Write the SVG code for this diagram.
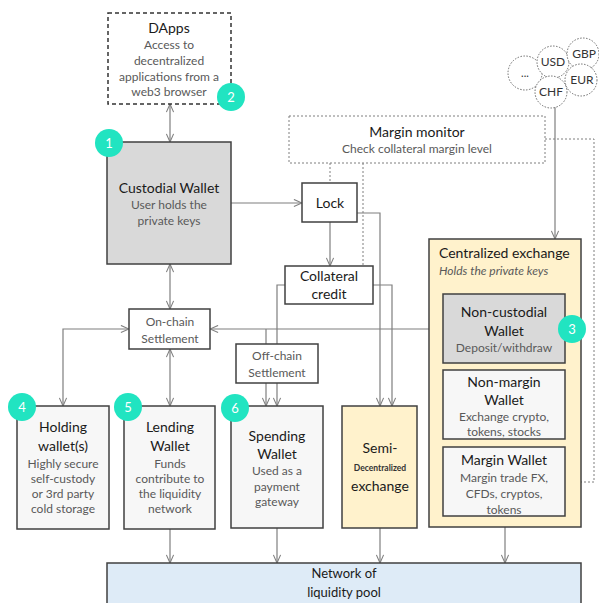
<svg xmlns="http://www.w3.org/2000/svg" width="599" height="603" viewBox="0 0 599 603">
<defs>
<marker id="a" viewBox="0 0 10 10" refX="10" refY="5" markerWidth="9" markerHeight="9" orient="auto-start-reverse" markerUnits="userSpaceOnUse">
<path d="M1,1 L10,5 L1,9" fill="none" stroke="#7f7f7f" stroke-width="1.2"/>
</marker>
<style>
text{font-family:Lato,"Open Sans","Liberation Sans",sans-serif;text-anchor:middle}
.t{font-size:14px;fill:#1a1a1a}
.s{font-size:12px;fill:#595959}
.box{stroke:#404040;stroke-width:1.5}
.w{fill:#fff}
.g{fill:#d9d9d9}
.l{fill:#f7f7f7}
.y{fill:#fff2cc}
.c{stroke:#7f7f7f;stroke-width:1.2;fill:none}
.d{stroke:#7f7f7f;stroke-width:1;fill:none;stroke-dasharray:2,2}
.b{fill:#21e4c1}
.bn{font-size:13px;fill:#fff}
.cur{fill:#fff;stroke:#6a6a6a;stroke-width:1;stroke-dasharray:1.5,1.5}
.ct{font-size:12px;fill:#333}
</style>
</defs>
<rect width="599" height="603" fill="#fff"/>

<g id="connectors">
<path class="c" d="M170,104 V142" marker-start="url(#a)" marker-end="url(#a)"/>
<path class="c" d="M231,203 H302" marker-end="url(#a)"/>
<path class="c" d="M330,222 V266" marker-end="url(#a)"/>
<path class="c" d="M170,264 V309" marker-start="url(#a)" marker-end="url(#a)"/>
<path class="c" d="M170,349 V406" marker-start="url(#a)" marker-end="url(#a)"/>
<path class="c" d="M129,329 H63 V406" marker-start="url(#a)" marker-end="url(#a)"/>
<path class="c" d="M210,329 H443" marker-start="url(#a)" marker-end="url(#a)"/>
<path class="c" d="M266,329 V344"/>
<path class="c" d="M266,383 V406" marker-end="url(#a)"/>
<path class="c" d="M285,285 H277 V406" marker-end="url(#a)"/>
<path class="c" d="M357,213 H380 V406" marker-end="url(#a)"/>
<path class="c" d="M373,285 H392 V406" marker-end="url(#a)"/>
<path class="c" d="M555,107 V239" marker-end="url(#a)"/>
<path class="d" d="M330,163 V183"/>
<path class="d" d="M363,163 V266"/>
<path class="d" d="M545,139 H594 V482 H565"/>
<path class="c" d="M170,529 V563" marker-end="url(#a)"/>
<path class="c" d="M277,528 V563" marker-end="url(#a)"/>
<path class="c" d="M380,528 V563" marker-end="url(#a)"/>
<path class="c" d="M505,527 V563" marker-end="url(#a)"/>
</g>

<g id="currencies">
<circle class="cur" cx="525" cy="73" r="17"/>
<circle class="cur" cx="553" cy="62" r="16"/>
<circle class="cur" cx="583" cy="54" r="16"/>
<circle class="cur" cx="581" cy="80" r="16"/>
<circle class="cur" cx="551" cy="92" r="16"/>
<text class="ct" x="525" y="77" style="font-size:11px">...</text>
<text class="ct" x="553" y="66">USD</text>
<text class="ct" x="584" y="58">GBP</text>
<text class="ct" x="582" y="84">EUR</text>
<text class="ct" x="551" y="96">CHF</text>
</g>

<g id="dapps">
<rect x="108" y="13" width="123" height="91" fill="#fff" stroke="#333" stroke-width="1.5" stroke-dasharray="4,3"/>
<text class="t" x="169" y="33">DApps</text>
<text class="s" x="169" y="49">Access to</text>
<text class="s" x="169" y="65">decentralized</text>
<text class="s" x="169" y="81">applications from a</text>
<text class="s" x="169" y="96">web3 browser</text>
<circle class="b" cx="231" cy="97" r="14"/>
<text class="bn" x="231" y="102">2</text>
</g>

<g id="custodial">
<rect class="box g" x="107" y="142" width="124" height="122"/>
<text class="t" x="169" y="193">Custodial Wallet</text>
<text class="s" x="169" y="209">User holds the</text>
<text class="s" x="169" y="225">private keys</text>
<circle class="b" cx="109" cy="143" r="14"/>
<text class="bn" x="109" y="148">1</text>
</g>

<g id="margin-monitor">
<rect x="289" y="116" width="256" height="47" fill="#fff" stroke="#7f7f7f" stroke-width="1" stroke-dasharray="2,2"/>
<text class="t" x="417" y="137">Margin monitor</text>
<text class="s" x="417" y="153">Check collateral margin level</text>
</g>

<g id="lock">
<rect class="box w" x="302" y="183" width="55" height="39"/>
<text class="t" x="330" y="208">Lock</text>
</g>

<g id="collateral">
<rect class="box w" x="285" y="266" width="88" height="38"/>
<text class="t" x="329" y="281">Collateral</text>
<text class="t" x="329" y="299">credit</text>
</g>

<g id="onchain">
<rect class="box w" x="129" y="309" width="81" height="40"/>
<text class="s" x="170" y="326">On-chain</text>
<text class="s" x="170" y="343">Settlement</text>
</g>

<g id="offchain">
<rect class="box w" x="236" y="344" width="82" height="39"/>
<text class="s" x="277" y="360">Off-chain</text>
<text class="s" x="277" y="377">Settlement</text>
</g>

<g id="holding">
<rect class="box l" x="17" y="406" width="92" height="123"/>
<text class="t" x="63" y="432">Holding</text>
<text class="t" x="63" y="451">wallet(s)</text>
<text class="s" x="63" y="468">Highly secure</text>
<text class="s" x="63" y="483">self-custody</text>
<text class="s" x="63" y="498">or 3rd party</text>
<text class="s" x="63" y="513">cold storage</text>
<circle class="b" cx="22" cy="407" r="14"/>
<text class="bn" x="22" y="412">4</text>
</g>

<g id="lending">
<rect class="box l" x="124" y="406" width="91" height="123"/>
<text class="t" x="170" y="432">Lending</text>
<text class="t" x="170" y="451">Wallet</text>
<text class="s" x="170" y="468">Funds</text>
<text class="s" x="170" y="483">contribute to</text>
<text class="s" x="170" y="498">the liquidity</text>
<text class="s" x="170" y="513">network</text>
<circle class="b" cx="128" cy="407" r="14"/>
<text class="bn" x="128" y="412">5</text>
</g>

<g id="spending">
<rect class="box l" x="231" y="406" width="92" height="122"/>
<text class="t" x="277" y="441">Spending</text>
<text class="t" x="277" y="459">Wallet</text>
<text class="s" x="277" y="475">Used as a</text>
<text class="s" x="277" y="491">payment</text>
<text class="s" x="277" y="506">gateway</text>
<circle class="b" cx="235" cy="408" r="14"/>
<text class="bn" x="235" y="413">6</text>
</g>

<g id="semi">
<rect class="box y" x="342" y="406" width="75" height="122"/>
<text class="t" x="380" y="453">Semi-</text>
<text x="380" y="471" style="font-size:8.5px;font-weight:bold;fill:#333">Decentralized</text>
<text class="t" x="380" y="491">exchange</text>
</g>

<g id="centralized">
<rect class="box y" x="429" y="239" width="152" height="288"/>
<text class="t" x="439" y="258" style="text-anchor:start">Centralized exchange</text>
<text class="s" x="439" y="275" style="text-anchor:start;font-style:italic">Holds the private keys</text>
</g>

<g id="noncustodial">
<rect class="box g" x="443" y="294" width="122" height="69"/>
<text class="t" x="504" y="317">Non-custodial</text>
<text class="t" x="504" y="336">Wallet</text>
<text class="s" x="504" y="352">Deposit/withdraw</text>
<circle class="b" cx="572" cy="329" r="14"/>
<text class="bn" x="572" y="334">3</text>
</g>

<g id="nonmargin">
<rect class="box l" x="443" y="370" width="122" height="69"/>
<text class="t" x="504" y="387">Non-margin</text>
<text class="t" x="504" y="405">Wallet</text>
<text class="s" x="504" y="421">Exchange crypto,</text>
<text class="s" x="504" y="436">tokens, stocks</text>
</g>

<g id="margin">
<rect class="box l" x="443" y="447" width="122" height="69"/>
<text class="t" x="504" y="465">Margin Wallet</text>
<text class="s" x="504" y="482">Margin trade FX,</text>
<text class="s" x="504" y="498">CFDs, cryptos,</text>
<text class="s" x="504" y="514">tokens</text>
</g>

<g id="network">
<rect class="box" x="107" y="563" width="474" height="50" fill="#deebf7"/>
<text x="344" y="578" style="font-size:13px;fill:#1a1a1a">Network of</text>
<text x="344" y="597" style="font-size:13px;fill:#1a1a1a">liquidity pool</text>
</g>
</svg>
